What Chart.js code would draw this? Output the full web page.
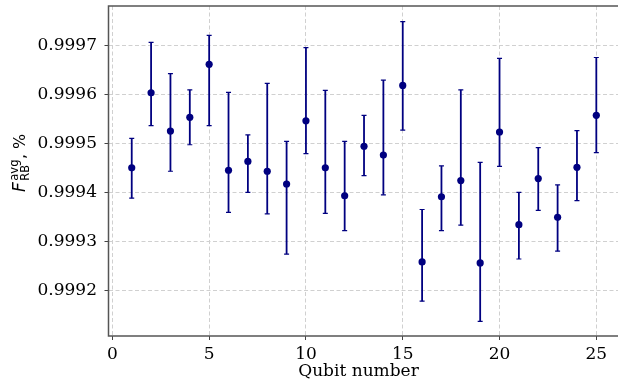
<!DOCTYPE html>
<html><head><meta charset="utf-8">
<script src="https://cdn.jsdelivr.net/npm/chart.js@4"></script>
<style>html,body{margin:0;padding:0;background:#fff;overflow:hidden}canvas{display:block}</style>
</head><body>
<canvas id="c" width="618" height="386"></canvas>
<script>
const qubits = [1,2,3,4,5,6,7,8,9,10,11,12,13,14,15,16,17,18,19,20,21,22,23,24,25];
const fidelity = [0.999450,0.999603,0.999525,0.999553,0.999661,0.999445,0.999463,0.999443,0.999417,0.999546,
  0.999450,0.999393,0.999494,0.999476,0.999618,0.999258,0.999391,0.999424,0.999256,0.999523,
  0.999334,0.999428,0.999349,0.999451,0.999557];
const lowerBound = [0.999388,0.999536,0.999443,0.999497,0.999536,0.999359,0.999400,0.999356,0.999274,0.999479,
  0.999357,0.999322,0.999434,0.999395,0.999527,0.999178,0.999322,0.999333,0.999137,0.999453,
  0.999264,0.999363,0.999280,0.999383,0.999481];
const upperBound = [0.999510,0.999706,0.999642,0.999609,0.999720,0.999604,0.999517,0.999622,0.999504,0.999695,
  0.999608,0.999504,0.999557,0.999629,0.999748,0.999365,0.999454,0.999609,0.999461,0.999673,
  0.999400,0.999491,0.999415,0.999526,0.999675];
const xTicks = [0,5,10,15,20,25];
const yTicks = [0.9992,0.9993,0.9994,0.9995,0.9996,0.9997];
const xLabel = 'Qubit number';
const yLabelMain = 'F', yLabelSup = 'avg', yLabelSub = 'RB', yLabelTail = ', %';

const NAVY = '#000080';

const errorBars = {
  id: 'errorBars',
  beforeDatasetsDraw(chart) {
    const {ctx, scales: {x, y}} = chart;
    ctx.save();
    ctx.strokeStyle = NAVY;
    qubits.forEach((q, i) => {
      const px = x.getPixelForValue(q);
      const yl = y.getPixelForValue(lowerBound[i]);
      const yh = y.getPixelForValue(upperBound[i]);
      ctx.lineWidth = 1.8;
      ctx.beginPath(); ctx.moveTo(px, yl); ctx.lineTo(px, yh); ctx.stroke();
      ctx.lineWidth = 1.2;
      ctx.beginPath();
      ctx.moveTo(px - 2.5, yl); ctx.lineTo(px + 2.5, yl);
      ctx.moveTo(px - 2.5, yh); ctx.lineTo(px + 2.5, yh);
      ctx.stroke();
    });
    ctx.restore();
  }
};

const spines = {
  id: 'spines',
  beforeDatasetsDraw(chart) {
    const {ctx, chartArea: a} = chart;
    ctx.save();
    ctx.strokeStyle = '#555555';
    ctx.lineWidth = 1.5;
    ctx.beginPath();
    ctx.moveTo(chart.width, a.top); ctx.lineTo(a.left, a.top);
    ctx.lineTo(a.left, a.bottom); ctx.lineTo(chart.width, a.bottom);
    ctx.stroke();
    ctx.restore();
  }
};

const axisTitles = {
  id: 'axisTitles',
  afterDraw(chart) {
    const ctx = chart.ctx;
    ctx.save();
    ctx.fillStyle = '#000';
    ctx.textAlign = 'center';
    ctx.textBaseline = 'alphabetic';
    ctx.font = "17px 'DejaVu Serif'";
    ctx.fillText(xLabel, 358.5, 376);
    ctx.restore();

    ctx.save();
    ctx.translate(25, 192);
    ctx.rotate(-Math.PI / 2);
    ctx.fillStyle = '#000';
    ctx.textAlign = 'left';
    ctx.textBaseline = 'alphabetic';
    ctx.font = "italic 17px 'DejaVu Sans'";
    ctx.fillText(yLabelMain, 0, 0);
    let u = ctx.measureText(yLabelMain).width + 1.5;
    ctx.font = "11.5px 'DejaVu Sans'";
    ctx.fillText(yLabelSup, u, -7.5);
    const w1 = ctx.measureText(yLabelSup).width;
    ctx.fillText(yLabelSub, u, 4);
    const w2 = ctx.measureText(yLabelSub).width;
    u += Math.max(w1, w2) + 0.5;
    ctx.font = "16px 'DejaVu Sans'";
    ctx.fillText(yLabelTail, u, 0);
    ctx.restore();
  }
};

new Chart(document.getElementById('c'), {
  type: 'scatter',
  data: {
    datasets: [{
      data: qubits.map((q, i) => ({x: q, y: fidelity[i]})),
      backgroundColor: NAVY,
      borderColor: NAVY,
      borderWidth: 0,
      pointRadius: 3.6,
      pointHoverRadius: 3.6,
      showLine: false
    }]
  },
  options: {
    responsive: false,
    animation: false,
    devicePixelRatio: 1,
    layout: {autoPadding: false, padding: {top: 6, left: 0, right: 0, bottom: 0}},
    plugins: {legend: {display: false}, tooltip: {enabled: false}},
    scales: {
      x: {
        type: 'linear', min: -0.2, max: 26.12,
        afterBuildTicks: s => { s.ticks = xTicks.map(v => ({value: v})); },
        afterFit: s => { s.height = 50; s.paddingLeft = 0; s.paddingRight = 0; },
        grid: {color: '#d0d0d0', lineWidth: 1, tickLength: 4, tickColor: '#444', tickWidth: 1},
        border: {display: false, dash: [4, 2.5]},
        ticks: {font: {family: "'DejaVu Serif'", size: 17}, color: '#000', padding: 4, maxRotation: 0, autoSkip: false}
      },
      y: {
        type: 'linear', min: 0.999107, max: 0.99978,
        afterBuildTicks: s => { s.ticks = yTicks.map(v => ({value: v})); },
        afterFit: s => { s.width = 108.5; s.paddingTop = 0; s.paddingBottom = 0; },
        grid: {color: '#d0d0d0', lineWidth: 1, tickLength: 4, tickColor: '#444', tickWidth: 1},
        border: {display: false, dash: [4, 2.5]},
        ticks: {font: {family: "'DejaVu Serif'", size: 17}, color: '#000', padding: 7.5, autoSkip: false,
          callback: v => Number(v).toFixed(4)}
      }
    }
  },
  plugins: [spines, errorBars, axisTitles]
});
</script>
</body></html>
